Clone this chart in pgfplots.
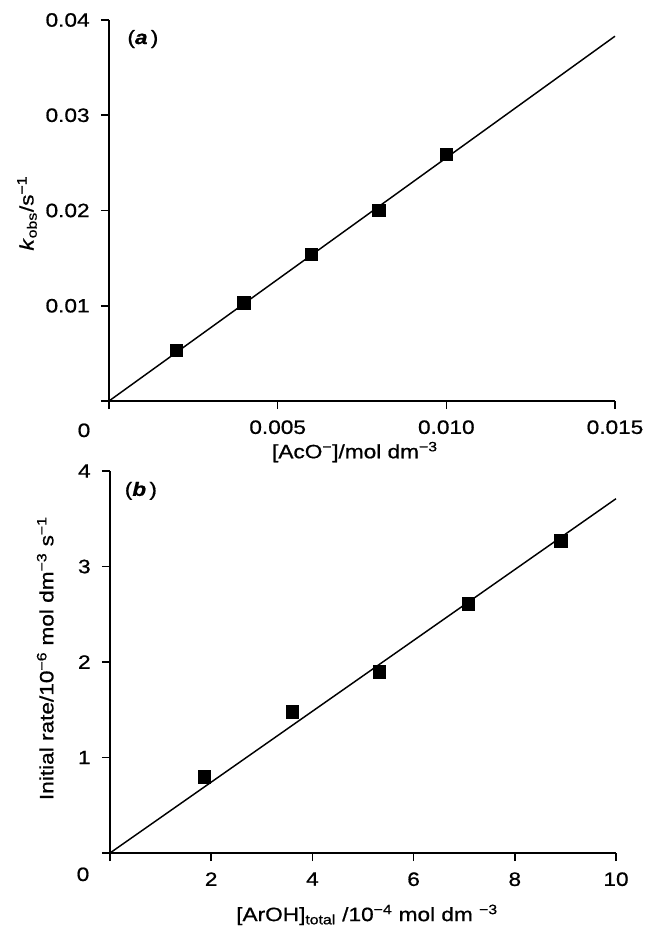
\documentclass[border=0pt]{standalone}
\usepackage{fontspec}
\setmainfont{Liberation Sans}[FakeStretch=1.17, FakeBold=0.8]
\usepackage{pgfplots}
\pgfplotsset{compat=1.18}

\newcommand{\lbl}{\fontsize{14.5}{17}\selectfont}

\pgfplotsset{
  panel/.style={
    scale only axis,
    width=379.5pt,
    clip=false,
    axis lines=left,
    axis line style={-, line width=1.3pt},
    tick align=outside,
    major tick length=6pt,
    tick style={line width=1.2pt, black},
    /pgf/number format/assume math mode=true,
    scaled ticks=false,
    tick label style={font=\lbl},
    label style={font=\lbl},
    xticklabel shift=5pt,
    yticklabel shift=5pt,
  },
  pts/.style={only marks, mark=square*, mark size=4.7pt, mark options={fill=black, draw=black}},
  fit/.style={black, line width=1.1pt, mark=none},
}

\begin{document}
\begin{tikzpicture}
\useasboundingbox (-81.75pt,-397.5pt) rectangle (402pt,300.75pt);

% (a) k_obs against acetate
\begin{axis}[
    panel,
    at={(0pt,0pt)}, anchor=origin,
    height=285.75pt,
    xmin=0, xmax=0.015, ymin=0, ymax=0.04,
    xtick={0,0.005,0.010,0.015},
    xticklabels={,0.005,0.010,0.015},
    ytick={0,0.01,0.02,0.03,0.04},
    yticklabels={,0.01,0.02,0.03,0.04},
    xlabel={[AcO\textsuperscript{−}]/mol dm\textsuperscript{−3}},
    xlabel style={at={(axis description cs:0.486,-0.134)}, anchor=center},
    ylabel={\textit{k}\textsubscript{obs}/s\textsuperscript{−1}},
    ylabel style={at={(axis description cs:-0.162,0.493)}, anchor=center},
]
\addplot[fit] coordinates {(0,0) (0.015,0.0383)};
\addplot[pts] coordinates {
    (0.002,0.00535)
    (0.004,0.0103)
    (0.006,0.0154)
    (0.008,0.0200)
    (0.010,0.0259)
};
\node[font=\lbl] at (rel axis cs:0.067,0.95) {(\textbf{\textit{a}}\,)};
\node[font=\lbl, xshift=-18.75pt, yshift=-22pt] at (axis cs:0,0) {0};
\end{axis}

% (b) initial rate against total ArOH
\begin{axis}[
    panel,
    at={(0.75pt,-339pt)}, anchor=origin,
    height=286.5pt,
    xmin=0, xmax=10, ymin=0, ymax=4,
    xtick={0,2,4,6,8,10},
    xticklabels={,2,4,6,8,10},
    ytick={0,1,2,3,4},
    yticklabels={,1,2,3,4},
    xlabel={[ArOH]\textsubscript{total} /10\textsuperscript{−4} mol dm \textsuperscript{−3}},
    xlabel style={at={(axis description cs:0.508,-0.162)}, anchor=center},
    ylabel={Initial rate/10\textsuperscript{−6} mol dm\textsuperscript{−3} s\textsuperscript{−1}},
    ylabel style={at={(axis description cs:-0.128,0.51)}, anchor=center},
]
\addplot[fit] coordinates {(0,0) (10,3.71)};
\addplot[pts] coordinates {
    (1.86,0.80)
    (3.60,1.48)
    (5.32,1.90)
    (7.08,2.61)
    (8.91,3.27)
};
\node[font=\lbl] at (rel axis cs:0.061,0.948) {(\textbf{\textit{b}}\,)};
\node[font=\lbl, xshift=-20.25pt, yshift=-16pt] at (axis cs:0,0) {0};
\end{axis}
\end{tikzpicture}
\end{document}
